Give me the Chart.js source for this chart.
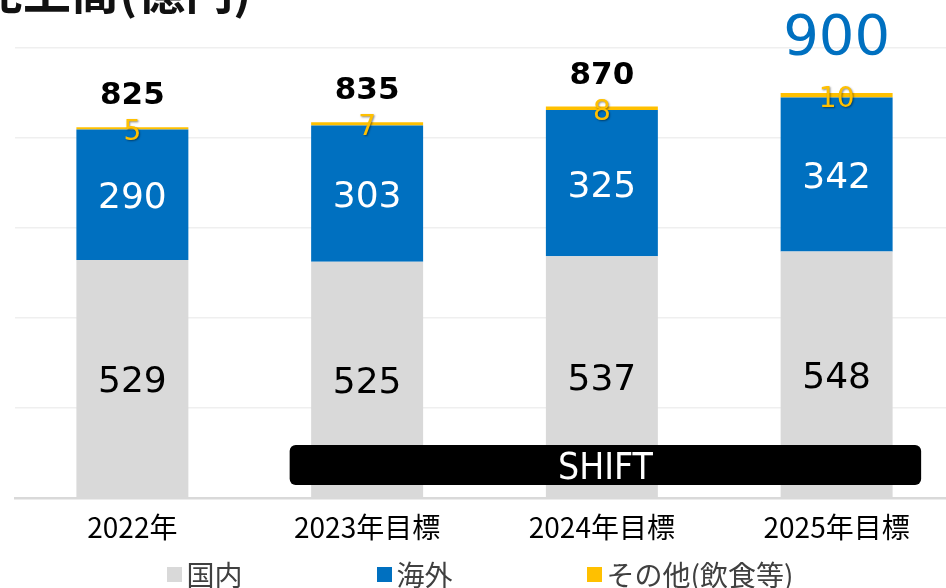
<!DOCTYPE html>
<html>
<head>
<meta charset="utf-8">
<script src="https://cdn.jsdelivr.net/npm/chart.js@4/dist/chart.umd.min.js"></script>
<style>
  html, body { margin: 0; padding: 0; background: #fff; overflow: hidden; }
  #wrap { position: relative; width: 946px; height: 588px; overflow: hidden; }
  #chart { position: absolute; left: 0; top: 0; }
  #title {
    position: absolute; left: -25px; top: -36px; z-index: 2;
    font: bold 48px "Noto Sans CJK JP"; line-height: 48px; color: #111; white-space: nowrap;
  }
  #legend {
    position: absolute; left: 0; top: 557px; width: 960px; height: 34px;
    display: flex; justify-content: center; gap: 134px;
    font: 28px "Noto Sans CJK JP"; line-height: 34px; color: #404040;
  }
  #legend span.item { display: flex; align-items: center; white-space: nowrap; }
  #legend span.box { width: 15px; height: 15px; margin-right: 5px; display: inline-block; }
</style>
</head>
<body>
<div id="wrap">
  <div id="title">売上高(億円)</div>
  <canvas id="chart" width="956" height="588"></canvas>
  <div id="legend"></div>
</div>
<script>
const categories = ['2022年', '2023年目標', '2024年目標', '2025年目標'];
const domestic = [529, 525, 537, 548];
const overseas = [290, 303, 325, 342];
const others = [5, 7, 8, 10];
const totals = [825, 835, 870, 900];
const seriesNames = ['国内', '海外', 'その他(飲食等)'];
const seriesColors = ['#D9D9D9', '#0070C0', '#FFC000'];
const labelColors = ['#000000', '#FFFFFF', '#FFC000'];

const numFont = '"DejaVu Sans"';

const labelPlugin = {
    id: 'barLabels',
    afterDatasetsDraw(chart) {
        const ctx = chart.ctx;
        const xs = chart.scales.x;
        const ys = chart.scales.y;
        const step = xs.getPixelForValue(1) - xs.getPixelForValue(0);

        // SHIFT band
        const left = xs.getPixelForValue(1) - 0.33 * step;
        const right = xs.getPixelForValue(3) + 0.36 * step;
        const top = ys.getPixelForValue(118);
        const bottom = ys.getPixelForValue(29);
        ctx.save();
        ctx.fillStyle = '#000';
        ctx.beginPath();
        ctx.roundRect(left, top, right - left, bottom - top, 6);
        ctx.fill();
        ctx.fillStyle = '#fff';
        ctx.font = '37px "DejaVu Sans Condensed", "DejaVu Sans"';
        ctx.textAlign = 'center';
        ctx.textBaseline = 'middle';
        ctx.fillText('SHIFT', (left + right) / 2, (top + bottom) / 2 + 4);
        ctx.restore();

        // values inside segments
        chart.data.datasets.forEach((ds, i) => {
            const meta = chart.getDatasetMeta(i);
            meta.data.forEach((bar, j) => {
                const cy = (bar.y + bar.base) / 2;
                ctx.save();
                ctx.textAlign = 'center';
                ctx.textBaseline = 'middle';
                ctx.fillStyle = labelColors[i];
                if (i === 2) {
                    ctx.font = '28px ' + numFont;
                    ctx.shadowColor = 'rgba(0,0,0,0.45)';
                    ctx.shadowOffsetX = 1;
                    ctx.shadowOffsetY = 1;
                    ctx.shadowBlur = 2;
                    ctx.fillText(String(ds.data[j]), bar.x, cy + 4);
                } else {
                    ctx.font = '36px ' + numFont;
                    ctx.fillText(String(ds.data[j]), bar.x, cy + 4);
                }
                ctx.restore();
            });
        });

        // totals
        const topMeta = chart.getDatasetMeta(2);
        topMeta.data.forEach((bar, j) => {
            ctx.save();
            ctx.textAlign = 'center';
            ctx.textBaseline = 'middle';
            if (j === totals.length - 1) {
                ctx.fillStyle = '#0070C0';
                ctx.font = '56px ' + numFont;
                ctx.fillText(String(totals[j]), bar.x, bar.y - 54);
            } else {
                ctx.fillStyle = '#000';
                ctx.font = 'bold 31px ' + numFont;
                ctx.fillText(String(totals[j]), bar.x, bar.y - 31);
            }
            ctx.restore();
        });
    }
};

const seriesData = [domestic, overseas, others];

new Chart(document.getElementById('chart').getContext('2d'), {
    type: 'bar',
    data: {
        labels: categories,
        datasets: seriesData.map((d, i) => ({
            label: seriesNames[i],
            data: d,
            backgroundColor: seriesColors[i],
            borderWidth: 0,
            barPercentage: 0.477,
            categoryPercentage: 1.0,
        })),
    },
    options: {
        responsive: false,
        animation: false,
        layout: { padding: { top: 48, left: 15, right: 2, bottom: 30 } },
        plugins: {
            legend: { display: false },
            tooltip: { enabled: false },
        },
        scales: {
            x: {
                stacked: true,
                grid: { display: false, drawTicks: false },
                border: { display: true, color: '#D9D9D9', width: 2.5 },
                ticks: {
                    color: '#000',
                    font: { family: '"Noto Sans CJK JP"', size: 28 },
                    padding: 13,
                },
                afterFit: s => { s.height = 60; },
            },
            y: {
                stacked: true,
                min: 0,
                max: 1000,
                ticks: { display: false, stepSize: 200 },
                grid: { color: '#EFEFEF', lineWidth: 1.5, drawTicks: false },
                border: { display: false },
                afterFit: s => { s.width = 0; },
            },
        },
    },
    plugins: [labelPlugin],
});

// legend
const legend = document.getElementById('legend');
seriesNames.forEach((name, i) => {
    const item = document.createElement('span');
    item.className = 'item';
    const box = document.createElement('span');
    box.className = 'box';
    box.style.background = seriesColors[i];
    item.appendChild(box);
    item.appendChild(document.createTextNode(name));
    legend.appendChild(item);
});
</script>
</body>
</html>
